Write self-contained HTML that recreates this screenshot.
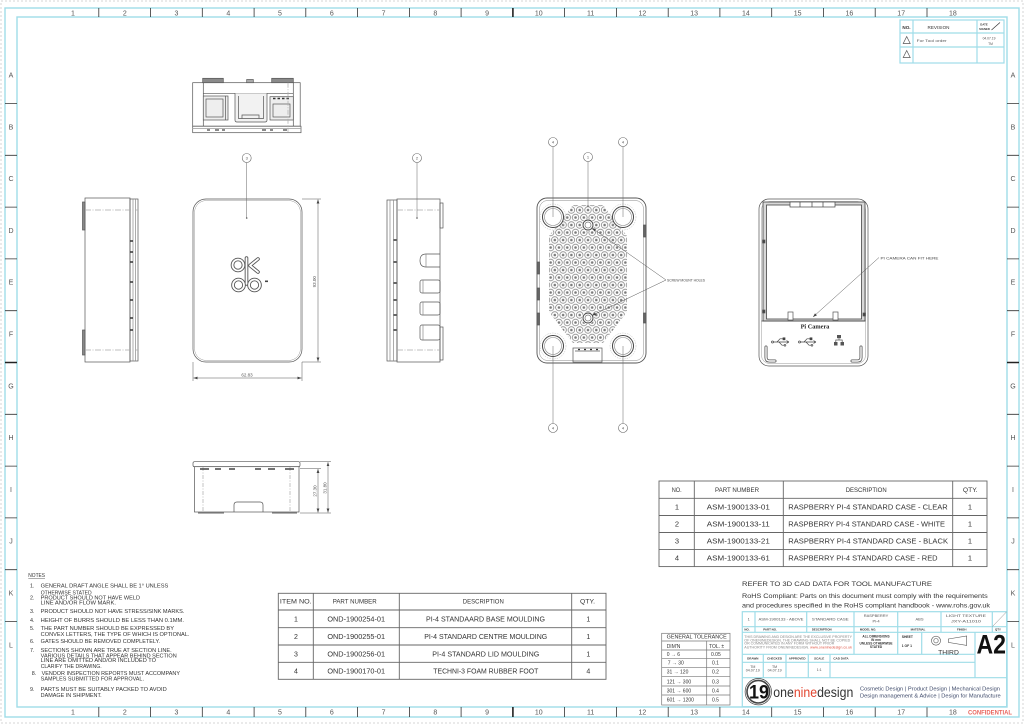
<!DOCTYPE html>
<html><head><meta charset="utf-8">
<style>
html,body{margin:0;padding:0;background:#fff;width:1024px;height:724px;overflow:hidden}
svg{display:block}
text{font-family:"Liberation Sans",Arial,sans-serif}
</style></head><body>
<svg width="1024" height="724" viewBox="0 0 1024 724" xmlns="http://www.w3.org/2000/svg">
<defs>
<pattern id="vent" patternUnits="userSpaceOnUse" x="583.85" y="206.25" width="8.3" height="15">
<g fill="none" stroke="#5e5e5e" stroke-width="0.6">
<circle cx="4.15" cy="3.75" r="3.3"/><circle cx="0" cy="11.25" r="3.3"/><circle cx="8.3" cy="11.25" r="3.3"/>
</g>
<g fill="#7a7a7a">
<circle cx="4.15" cy="3.75" r="1.3"/><circle cx="0" cy="11.25" r="1.3"/><circle cx="8.3" cy="11.25" r="1.3"/>
</g>
</pattern>
<marker id="ah" viewBox="0 0 10 10" refX="10" refY="5" markerWidth="4" markerHeight="4" orient="auto-start-reverse" markerUnits="userSpaceOnUse">
<path d="M0,1.5 L10,5 L0,8.5z" fill="#444"/>
</marker>
</defs>

<!-- page frame -->
<rect x="1" y="1" width="1022" height="722" fill="none" stroke="#d4d4d4" stroke-width="1" stroke-dasharray="2,2"/>
<rect x="5" y="8" width="1014" height="709" fill="none" stroke="#9fdde8" stroke-width="1.4"/>
<rect x="17" y="17" width="990" height="690" fill="none" stroke="#9fdde8" stroke-width="1.4"/>

<!-- column ticks -->
<g stroke="#333" stroke-width="0.8">
<path d="M98.8,8V17M150.6,8V17M202.3,8V17M254.1,8V17M305.8,8V17M357.6,8V17M409.4,8V17M461.1,8V17M564.6,8V17M616.4,8V17M668.2,8V17M719.9,8V17M771.7,8V17M823.4,8V17M875.2,8V17M927,8V17"/>
<path d="M98.8,707V717M150.6,707V717M202.3,707V717M254.1,707V717M305.8,707V717M357.6,707V717M409.4,707V717M461.1,707V717M564.6,707V717M616.4,707V717M668.2,707V717M719.9,707V717M771.7,707V717M823.4,707V717M875.2,707V717M927,707V717"/>
<path d="M5,103.5H17M5,155.3H17M5,207.1H17M5,258.9H17M5,310.7H17M5,414.3H17M5,466.1H17M5,517.9H17M5,569.7H17M5,621.5H17"/>
<path d="M1007,103.5H1019M1007,155.3H1019M1007,207.1H1019M1007,258.9H1019M1007,310.7H1019M1007,414.3H1019M1007,466.1H1019M1007,517.9H1019M1007,569.7H1019M1007,621.5H1019"/>
</g>
<g stroke="#222" stroke-width="1.6">
<path d="M512.9,8V17M512.9,707V717M5,362.5H17M1007,362.5H1019"/>
</g>
<g font-size="7" fill="#555" text-anchor="middle">
<text x="73" y="15.5">1</text><text x="124.8" y="15.5">2</text><text x="176.5" y="15.5">3</text><text x="228.3" y="15.5">4</text><text x="280" y="15.5">5</text><text x="331.8" y="15.5">6</text><text x="383.6" y="15.5">7</text><text x="435.3" y="15.5">8</text><text x="487.1" y="15.5">9</text><text x="538.8" y="15.5">10</text><text x="590.6" y="15.5">11</text><text x="642.4" y="15.5">12</text><text x="694.1" y="15.5">13</text><text x="745.9" y="15.5">14</text><text x="797.6" y="15.5">15</text><text x="849.4" y="15.5">16</text><text x="901.2" y="15.5">17</text><text x="952.9" y="15.5">18</text>
<text x="73" y="714.3">1</text><text x="124.8" y="714.3">2</text><text x="176.5" y="714.3">3</text><text x="228.3" y="714.3">4</text><text x="280" y="714.3">5</text><text x="331.8" y="714.3">6</text><text x="383.6" y="714.3">7</text><text x="435.3" y="714.3">8</text><text x="487.1" y="714.3">9</text><text x="538.8" y="714.3">10</text><text x="590.6" y="714.3">11</text><text x="642.4" y="714.3">12</text><text x="694.1" y="714.3">13</text><text x="745.9" y="714.3">14</text><text x="797.6" y="714.3">15</text><text x="849.4" y="714.3">16</text><text x="901.2" y="714.3">17</text><text x="952.9" y="714.3">18</text>
<text x="11" y="77.5">A</text><text x="11" y="129.3">B</text><text x="11" y="181.1">C</text><text x="11" y="232.9">D</text><text x="11" y="284.7">E</text><text x="11" y="336.5">F</text><text x="11" y="388.3">G</text><text x="11" y="440.1">H</text><text x="11" y="491.9">I</text><text x="11" y="543.7">J</text><text x="11" y="595.5">K</text><text x="11" y="647.3">L</text>
<text x="1013" y="77.5">A</text><text x="1013" y="129.3">B</text><text x="1013" y="181.1">C</text><text x="1013" y="232.9">D</text><text x="1013" y="284.7">E</text><text x="1013" y="336.5">F</text><text x="1013" y="388.3">G</text><text x="1013" y="440.1">H</text><text x="1013" y="491.9">I</text><text x="1013" y="543.7">J</text><text x="1013" y="595.5">K</text><text x="1013" y="647.3">L</text>
</g>
<text x="968" y="714.3" font-size="6.5" font-weight="bold" fill="#e8645c" textLength="44" lengthAdjust="spacingAndGlyphs">CONFIDENTIAL</text>

<!-- revision table -->
<g fill="none" stroke="#9fdde8" stroke-width="1.2">
<rect x="900" y="20" width="104" height="43"/>
<path d="M900,33H1004M900,47H1004M913,20V63M977,20V63"/>
</g>
<g fill="#333">
<text x="906.5" y="29" font-size="4.6" text-anchor="middle" font-weight="bold">NO.</text>
<text x="938.5" y="29" font-size="4.6" text-anchor="middle">REVISION</text>
<text x="984" y="25.5" font-size="2.8" text-anchor="middle" font-weight="bold">DATE</text>
<text x="984.5" y="30" font-size="2.8" text-anchor="middle" font-weight="bold">SIGNED</text>
<text x="916.7" y="42" font-size="3.5" fill="#555" textLength="30" lengthAdjust="spacingAndGlyphs">For Tool order</text>
<text x="989" y="39.5" font-size="3.3" text-anchor="middle" fill="#555">04.07.19</text>
<text x="990.5" y="45.2" font-size="3.3" text-anchor="middle" fill="#555">TM</text>
</g>
<path d="M991.5,30L1000,22.5" stroke="#333" stroke-width="0.7"/>
<g fill="none" stroke="#555" stroke-width="0.7">
<path d="M906.7,36.5L910.2,43.5H903.2Z"/>
<path d="M906.7,50.5L910.2,57.5H903.2Z"/>
</g>

<!-- ============ DRAWINGS ============ -->
<g fill="none" stroke="#555" stroke-width="0.7">

<!-- top view -->
<rect x="192.7" y="82.7" width="107.5" height="43.5"/>
<rect x="192.7" y="126.2" width="108.3" height="6.5"/>
<line x1="192.7" y1="128.6" x2="301" y2="128.6" stroke="#999"/>
<line x1="203.3" y1="82.7" x2="203.3" y2="126.2"/>
<line x1="293.3" y1="82.7" x2="293.3" y2="126.2"/>
<line x1="203.3" y1="93.3" x2="293.3" y2="93.3"/>
<rect x="202.7" y="78.3" width="20.6" height="4.4" fill="#8a8a8a"/>
<rect x="271.7" y="78.3" width="21.6" height="4.4" fill="#8a8a8a"/>
<rect x="246.7" y="79.5" width="6.6" height="3.2" fill="#aaa"/>
<rect x="203.3" y="96" width="24.7" height="24" fill="#eee"/>
<rect x="206" y="99" width="17" height="18"/>
<line x1="225.5" y1="96" x2="225.5" y2="120"/>
<path d="M235,93.3V120Q235,122 237,122H265Q267,122 267,120V93.3" fill="#f2f2f2"/>
<path d="M238.5,96V118.5H263.5V96"/>
<path d="M242,118.5V115H259V118.5"/>
<rect x="270" y="96.7" width="23.3" height="23.3" fill="#eee"/>
<rect x="273" y="104" width="17" height="13"/>
<path d="M273,98.5h2.5M277.5,98.5h2.5M282,98.5h2.5M286.5,98.5h2.5" stroke="#333" stroke-width="1.5"/>
<path d="M207,130h3M215,130h4M222,130h3M262,130h4M270,130h3M283,130h4" stroke="#444" stroke-width="1.2"/>
<line x1="288" y1="82.7" x2="288" y2="132.7" stroke="#aaa" stroke-dasharray="5,1.5,1,1.5"/>

<!-- left side view -->
<rect x="85" y="198" width="45" height="164"/>
<rect x="130" y="199" width="8" height="162"/>
<line x1="133" y1="199" x2="133" y2="361" stroke="#888"/>
<line x1="135.5" y1="199" x2="135.5" y2="361" stroke="#888"/>
<rect x="82.5" y="202" width="2.5" height="28" fill="#888"/>
<rect x="82.5" y="330" width="2.5" height="25" fill="#888"/>
<path d="M85,210H138M85,350H138" stroke="#aaa" stroke-dasharray="6,1.5,1,1.5"/>
<path d="M130,241h3M130,252h3M130,262h3M130,282h3M130,300h3M130,318h3M130,330h3" stroke="#333" stroke-width="1.6"/>

<!-- lid front view -->
<rect x="193" y="199" width="109" height="163" rx="13"/>
<rect x="194.6" y="200.6" width="105.8" height="159.8" rx="11.5" stroke="#999" stroke-width="0.5"/>
<!-- logo -->
<g stroke="#555" stroke-width="3.6" stroke-linecap="round" stroke-linejoin="round">
<circle cx="238" cy="265" r="5.5"/>
<path d="M258,259L250,265.5L258,272"/>
<path d="M246.5,258V284"/>
<circle cx="238.5" cy="285" r="5.5"/>
<circle cx="254.5" cy="285" r="5.5"/>
</g>
<g stroke="#fff" stroke-width="1.8" stroke-linecap="round" stroke-linejoin="round">
<circle cx="238" cy="265" r="5.5"/>
<path d="M258,259L250,265.5L258,272"/>
<path d="M246.5,258V284"/>
<circle cx="238.5" cy="285" r="5.5"/>
<circle cx="254.5" cy="285" r="5.5"/>
</g>
<rect x="265" y="280.5" width="3" height="1.6" fill="#444" stroke="none"/>

<!-- dims lid -->
<g stroke="#555" stroke-width="0.5">
<path d="M302,199H321M302,362H321M193,362V381M302,362V381"/>
<line x1="318" y1="199.5" x2="318" y2="361.5" marker-start="url(#ah)" marker-end="url(#ah)"/>
<line x1="193.5" y1="378" x2="301.5" y2="378" marker-start="url(#ah)" marker-end="url(#ah)"/>
</g>

<!-- right side view -->
<rect x="397" y="199" width="43" height="163"/>
<rect x="387" y="200" width="10" height="161"/>
<line x1="390" y1="200" x2="390" y2="361" stroke="#888"/>
<line x1="393.5" y1="200" x2="393.5" y2="361" stroke="#888"/>
<path d="M393.5,240h3M393.5,262h3M393.5,283h3M393.5,300h3M393.5,315h3M393.5,330h3" stroke="#333" stroke-width="1.4"/>
<rect x="440" y="203" width="3" height="25"/>
<rect x="440" y="327" width="3" height="33"/>
<path d="M397,210H440M397,350H440" stroke="#aaa" stroke-dasharray="6,1.5,1,1.5"/>
<path d="M440,254H426Q420,254 420,260.5Q420,267 426,267H440"/>
<line x1="426" y1="254" x2="426" y2="267" stroke="#888"/>
<rect x="420" y="280" width="20" height="13" rx="2"/>
<line x1="423" y1="280" x2="423" y2="293" stroke="#888"/>
<rect x="420" y="302" width="20" height="13" rx="2"/>
<line x1="423" y1="302" x2="423" y2="315" stroke="#888"/>
<rect x="420" y="325" width="20" height="15" rx="2"/>
<line x1="423" y1="325" x2="423" y2="340" stroke="#888"/>

<!-- bottom view -->
<rect x="193" y="461.7" width="107" height="5" rx="1.5"/>
<rect x="194.5" y="466.7" width="104.5" height="45.3"/>
<path d="M234,512V505Q234,502 237,502H260Q263,502 263,505V512"/>
<path d="M203,467V512M290,467V512" stroke="#aaa" stroke-dasharray="4,1.5,1,1.5"/>
<path d="M200,469h9M215,469h6M229,469h6M255,469h6M268,469h7M285,469h9" stroke="#444" stroke-width="1.4"/>
<path d="M198,513H224M272,513H297" stroke="#666" stroke-width="1"/>
<g stroke-width="0.5">
<path d="M300,461.7H331M300,468.5H321M300,513H331"/>
<line x1="328" y1="462.2" x2="328" y2="512.5" marker-start="url(#ah)" marker-end="url(#ah)"/>
<line x1="318" y1="469" x2="318" y2="512.5" marker-start="url(#ah)" marker-end="url(#ah)"/>
</g>

<!-- base view -->
<rect x="537" y="198" width="109" height="165" rx="10" stroke-width="0.9"/>
<rect x="539.5" y="200.5" width="104" height="160" rx="8" stroke="#888" stroke-width="0.5"/>
<rect x="537" y="262" width="2.5" height="12" fill="#666"/>
<rect x="537" y="288" width="2.5" height="12" fill="#666"/>
<rect x="537" y="313" width="2.5" height="12" fill="#666"/>
<rect x="643.5" y="225" width="2.5" height="12" fill="#666"/>
<rect x="643.5" y="313" width="2.5" height="10" fill="#666"/>
<polygon points="573,205 603,205 627,236 627,312 603,343 573,343 549,312 549,236" fill="url(#vent)" stroke="none"/>
<g stroke="#bbb" stroke-width="0.5" stroke-dasharray="1.5,1">
<circle cx="553" cy="217" r="13"/><circle cx="623" cy="217" r="13"/><circle cx="553" cy="346" r="13"/><circle cx="623" cy="346" r="13"/>
</g>
<g stroke="#444" stroke-width="1" fill="#fff">
<circle cx="553" cy="217" r="10.5"/><circle cx="623" cy="217" r="10.5"/><circle cx="553" cy="346" r="10.5"/><circle cx="623" cy="346" r="10.5"/>
</g>
<g stroke="#888" stroke-width="0.6">
<circle cx="553" cy="217" r="8.5"/><circle cx="623" cy="217" r="8.5"/><circle cx="553" cy="346" r="8.5"/><circle cx="623" cy="346" r="8.5"/>
</g>
<circle cx="588" cy="225" r="6" fill="#fff" stroke="none"/>
<circle cx="588" cy="318" r="6" fill="#fff" stroke="none"/>
<circle cx="588" cy="225" r="5" stroke="#444" stroke-width="0.9"/>
<circle cx="588" cy="225" r="3" stroke="#777"/>
<circle cx="588" cy="318" r="5" stroke="#444" stroke-width="0.9"/>
<circle cx="588" cy="318" r="3" stroke="#777"/>
<rect x="573" y="348" width="29" height="14"/>
<line x1="575" y1="351" x2="600" y2="351"/>
<path d="M578,349.5h2M584,349.5h2M590,349.5h2M596,349.5h2" stroke="#333" stroke-width="1.2"/>
<g stroke="#555" stroke-width="0.5">
<line x1="666" y1="280" x2="592" y2="228" marker-end="url(#ah)"/>
<line x1="666" y1="280" x2="592" y2="315.5" marker-end="url(#ah)"/>
</g>

<!-- lid interior view -->
<rect x="759" y="199" width="109" height="167" rx="10"/>
<rect x="761.5" y="201.5" width="104" height="162" rx="8" stroke="#999" stroke-width="0.5"/>
<rect x="763" y="202" width="102" height="119" fill="#d8d8d8" stroke="#444" stroke-width="0.8"/>
<rect x="766.5" y="205" width="95" height="114" fill="#fff" stroke="#444" stroke-width="0.8"/>
<rect x="790" y="202" width="45" height="5" fill="#fff" stroke="#444"/>
<path d="M800,202v5M812,202v5M823,202v5" stroke="#444"/>
<rect x="762.5" y="240" width="2.5" height="3" fill="#444"/>
<rect x="762.5" y="310" width="2.5" height="3" fill="#444"/>
<rect x="863" y="313" width="2.5" height="3" fill="#444"/>
<rect x="788" y="312" width="5" height="8" fill="#fff"/>
<rect x="833" y="312" width="5" height="8" fill="#fff"/>
<line x1="761.5" y1="321" x2="865.5" y2="321" stroke="#444"/>
<!-- usb icons -->
<g stroke="#444" stroke-width="0.7">
<circle cx="772.5" cy="342" r="1"/>
<path d="M773.5,342H789M789,342l-2.5,-1.5M789,342l-2.5,1.5M777,342L780,338.8H783M779,342L782,345.2H784"/>
<rect x="783" y="337.8" width="2" height="2" fill="#444"/>
<circle cx="785" cy="345.2" r="0.9"/>
<circle cx="799.5" cy="342" r="1"/>
<path d="M800.5,342H816M816,342l-2.5,-1.5M816,342l-2.5,1.5M804,342L807,338.8H810M806,342L809,345.2H811"/>
<rect x="810" y="337.8" width="2" height="2" fill="#444"/>
<circle cx="812" cy="345.2" r="0.9"/>
</g>
<g fill="#555" stroke="none">
<rect x="837" y="335" width="4" height="3.2"/>
<rect x="834" y="342" width="3.5" height="3.5"/>
<rect x="840.5" y="342" width="3.5" height="3.5"/>
</g>
<path d="M839,338.2V340M835.8,342V340H842.2V342" stroke="#555" stroke-width="0.7"/>
<g stroke="#555" stroke-width="3" stroke-linecap="round">
<path d="M766,347V357.5Q766,361 769.5,361H775"/>
<path d="M861,347V357.5Q861,361 857.5,361H852"/>
</g>
<g stroke="#fff" stroke-width="1.4" stroke-linecap="round">
<path d="M766,347V357.5Q766,361 769.5,361H775"/>
<path d="M861,347V357.5Q861,361 857.5,361H852"/>
</g>
<line x1="879" y1="257.5" x2="813" y2="317" stroke-width="0.5" marker-end="url(#ah)"/>

<!-- balloons -->
<g stroke="#666" stroke-width="0.6" fill="#fff">
<circle cx="246.7" cy="158" r="4.5"/>
<circle cx="417" cy="158" r="4.5"/>
<circle cx="553" cy="142" r="4.5"/>
<circle cx="623" cy="142" r="4.5"/>
<circle cx="588" cy="157" r="4.5"/>
<circle cx="553" cy="428" r="4.5"/>
<circle cx="623" cy="428" r="4.5"/>
</g>
<g stroke="#666" stroke-width="0.5">
<path d="M246.7,162.5V218M417,162.5V218M553,146.5V217M623,146.5V217M588,161.5V206M553,423.5V346M623,423.5V346"/>
</g>
</g>
<g fill="#555">
<circle cx="246.7" cy="218" r="0.8"/><circle cx="417" cy="218" r="0.8"/><circle cx="588" cy="206" r="0.8"/>
</g>
<g font-size="4" fill="#555" text-anchor="middle">
<text x="246.7" y="159.4">3</text><text x="417" y="159.4">2</text>
<text x="553" y="143.4">4</text><text x="623" y="143.4">4</text><text x="588" y="158.4">1</text>
<text x="553" y="429.4">4</text><text x="623" y="429.4">4</text>
</g>

<!-- dimension texts -->
<g font-size="4.5" fill="#555" text-anchor="middle">
<text transform="translate(316,281.7) rotate(-90)">93.00</text>
<text x="247" y="376.3">62.83</text>
<text transform="translate(316.5,491) rotate(-90)">27.30</text>
<text transform="translate(326.5,488) rotate(-90)">31.80</text>
</g>
<text x="667" y="281.5" font-size="4" fill="#444" textLength="38" lengthAdjust="spacingAndGlyphs">SCREW MOUNT HOLES</text>
<text x="880.5" y="259.5" font-size="4" fill="#444" textLength="58" lengthAdjust="spacingAndGlyphs">PI CAMERA CAN FIT HERE</text>
<text x="815" y="328.3" font-size="6.3" font-weight="bold" fill="#222" text-anchor="middle" style="font-family:'Liberation Serif',serif">Pi Camera</text>

<!-- ============ BIG PARTS TABLE ============ -->
<g fill="none" stroke="#666" stroke-width="0.9">
<rect x="659" y="481" width="328" height="85.6"/>
<path d="M659,498.3H987M659,515.5H987M659,532.5H987M659,549.6H987M694.3,481V566.6M783.3,481V566.6M952.7,481V566.6"/>
</g>
<g fill="#333" font-size="6.3" text-anchor="middle">
<text x="676.7" y="492.2" textLength="10" lengthAdjust="spacingAndGlyphs">NO.</text>
<text x="737" y="492.2" textLength="44" lengthAdjust="spacingAndGlyphs">PART NUMBER</text>
<text x="866.2" y="492.2" textLength="41" lengthAdjust="spacingAndGlyphs">DESCRIPTION</text>
<text x="970.3" y="492.2" textLength="14.7" lengthAdjust="spacingAndGlyphs">QTY.</text>
</g>
<g fill="#333" font-size="7.5">
<g text-anchor="middle">
<text x="677" y="509.6">1</text><text x="677" y="526.6">2</text><text x="677" y="543.6">3</text><text x="677" y="560.6">4</text>
<text x="970" y="509.6">1</text><text x="970" y="526.6">1</text><text x="970" y="543.6">1</text><text x="970" y="560.6">1</text>
<text x="738.3" y="509.6" textLength="63" lengthAdjust="spacingAndGlyphs">ASM-1900133-01</text>
<text x="738.3" y="526.6" textLength="63" lengthAdjust="spacingAndGlyphs">ASM-1900133-11</text>
<text x="738.3" y="543.6" textLength="63" lengthAdjust="spacingAndGlyphs">ASM-1900133-21</text>
<text x="738.3" y="560.6" textLength="63" lengthAdjust="spacingAndGlyphs">ASM-1900133-61</text>
</g>
<text x="788.3" y="509.6" textLength="159.4" lengthAdjust="spacingAndGlyphs">RASPBERRY PI-4 STANDARD CASE - CLEAR</text>
<text x="788.3" y="526.6" textLength="156.7" lengthAdjust="spacingAndGlyphs">RASPBERRY PI-4 STANDARD CASE - WHITE</text>
<text x="788.3" y="543.6" textLength="159.7" lengthAdjust="spacingAndGlyphs">RASPBERRY PI-4 STANDARD CASE - BLACK</text>
<text x="788.3" y="560.6" textLength="149.3" lengthAdjust="spacingAndGlyphs">RASPBERRY PI-4 STANDARD CASE - RED</text>
</g>

<!-- ============ ITEMS TABLE ============ -->
<g fill="none" stroke="#666" stroke-width="0.9">
<rect x="278.3" y="593.3" width="327.7" height="86"/>
<path d="M278.3,610H606M278.3,627.7H606M278.3,645H606M278.3,662.3H606M313.3,593.3V679.3M399.3,593.3V679.3M571.7,593.3V679.3"/>
</g>
<g fill="#333" font-size="6.3" text-anchor="middle">
<text x="295.8" y="603.5" textLength="31.7" lengthAdjust="spacingAndGlyphs">ITEM NO.</text>
<text x="354.7" y="603.5" textLength="44" lengthAdjust="spacingAndGlyphs">PART NUMBER</text>
<text x="483.3" y="603.5" textLength="41" lengthAdjust="spacingAndGlyphs">DESCRIPTION</text>
<text x="587.5" y="603.5" textLength="15" lengthAdjust="spacingAndGlyphs">QTY.</text>
</g>
<g fill="#333" font-size="7" text-anchor="middle">
<text x="296" y="621.5">1</text><text x="296" y="639.2">2</text><text x="296" y="656.5">3</text><text x="296" y="673.5">4</text>
<text x="588.3" y="621.5">1</text><text x="588.3" y="639.2">1</text><text x="588.3" y="656.5">1</text><text x="588.3" y="673.5">4</text>
<text x="356.2" y="621.5" textLength="57.7" lengthAdjust="spacingAndGlyphs">OND-1900254-01</text>
<text x="356.2" y="639.2" textLength="57.7" lengthAdjust="spacingAndGlyphs">OND-1900255-01</text>
<text x="356.2" y="656.5" textLength="57.7" lengthAdjust="spacingAndGlyphs">OND-1900256-01</text>
<text x="356.2" y="673.5" textLength="57.7" lengthAdjust="spacingAndGlyphs">OND-1900170-01</text>
<text x="485.5" y="621.5" textLength="119" lengthAdjust="spacingAndGlyphs">PI-4 STANDAARD BASE MOULDING</text>
<text x="485.7" y="639.2" textLength="123" lengthAdjust="spacingAndGlyphs">PI-4 STANDARD CENTRE MOULDING</text>
<text x="485.8" y="656.5" textLength="107" lengthAdjust="spacingAndGlyphs">PI-4 STANDARD LID MOULDING</text>
<text x="485.8" y="673.5" textLength="105" lengthAdjust="spacingAndGlyphs">TECHNI-3 FOAM RUBBER FOOT</text>
</g>

<!-- ============ NOTES ============ -->
<g fill="#333" font-size="5.4">
<text x="28.3" y="577" textLength="16.7" lengthAdjust="spacingAndGlyphs">NOTES</text>
<line x1="28.3" y1="578.4" x2="45" y2="578.4" stroke="#333" stroke-width="0.4"/>
<text x="30" y="587.6">1.</text>
<text x="40.7" y="587.6" textLength="127.6" lengthAdjust="spacingAndGlyphs">GENERAL DRAFT ANGLE SHALL BE 1° UNLESS</text>
<text x="40.7" y="594.6" textLength="51" lengthAdjust="spacingAndGlyphs">OTHERWISE STATED</text>
<text x="30" y="599.6">2.</text>
<text x="40.7" y="599.6" textLength="99.3" lengthAdjust="spacingAndGlyphs">PRODUCT SHOULD NOT HAVE WELD</text>
<text x="40.7" y="604.6" textLength="75.3" lengthAdjust="spacingAndGlyphs">LINE AND/OR FLOW MARK.</text>
<text x="30" y="612.9">3.</text>
<text x="40.7" y="612.9" textLength="143.7" lengthAdjust="spacingAndGlyphs">PRODUCT SHOULD NOT HAVE STRESS/SINK MARKS.</text>
<text x="30" y="621.9">4.</text>
<text x="40.7" y="621.9" textLength="143.3" lengthAdjust="spacingAndGlyphs">HEIGHT OF BURRS SHOULD BE LESS THAN 0.1MM.</text>
<text x="30" y="630.2">5.</text>
<text x="40.7" y="630.2" textLength="133.3" lengthAdjust="spacingAndGlyphs">THE PART NUMBER SHOULD BE EXPRESSED BY</text>
<text x="40.7" y="635.9" textLength="148.7" lengthAdjust="spacingAndGlyphs">CONVEX LETTERS, THE TYPE OF WHICH IS OPTIONAL.</text>
<text x="30" y="643.2">6.</text>
<text x="40.7" y="643.2" textLength="119.3" lengthAdjust="spacingAndGlyphs">GATES SHOULD BE REMOVED COMPLETELY.</text>
<text x="30" y="651.9">7.</text>
<text x="40.7" y="651.9" textLength="131" lengthAdjust="spacingAndGlyphs">SECTIONS SHOWN ARE TRUE AT SECTION LINE.</text>
<text x="40.7" y="657.6" textLength="136" lengthAdjust="spacingAndGlyphs">VARIOUS DETAILS THAT APPEAR BEHIND SECTION</text>
<text x="40.7" y="662.2" textLength="115.3" lengthAdjust="spacingAndGlyphs">LINE ARE OMITTED AND/OR INCLUDED TO</text>
<text x="40.7" y="667.9" textLength="61" lengthAdjust="spacingAndGlyphs">CLARIFY THE DRAWING.</text>
<text x="31.7" y="675.2">8.</text>
<text x="41.7" y="675.2" textLength="138.3" lengthAdjust="spacingAndGlyphs">VENDOR INSPECTION REPORTS MUST ACCOMPANY</text>
<text x="40.7" y="680.6" textLength="103.3" lengthAdjust="spacingAndGlyphs">SAMPLES SUBMITTED FOR APPROVAL.</text>
<text x="30" y="690.9">9.</text>
<text x="40.7" y="690.9" textLength="126" lengthAdjust="spacingAndGlyphs">PARTS MUST BE SUITABLY PACKED TO AVOID</text>
<text x="40.7" y="696.9" textLength="61" lengthAdjust="spacingAndGlyphs">DAMAGE IN SHIPMENT.</text>
</g>

<!-- ============ REFER / ROHS ============ -->
<g fill="#333">
<text x="742" y="585.8" font-size="6.3" textLength="190" lengthAdjust="spacingAndGlyphs">REFER TO 3D CAD DATA FOR TOOL MANUFACTURE</text>
<text x="742" y="598" font-size="6.8" textLength="245.7" lengthAdjust="spacingAndGlyphs">RoHS Compliant:  Parts on this document must comply with the requirements</text>
<text x="742" y="607.4" font-size="6.8" textLength="248" lengthAdjust="spacingAndGlyphs">and procedures specified in the RoHS compliant handbook - www.rohs.gov.uk</text>
</g>

<!-- ============ TOLERANCE TABLE ============ -->
<g fill="none" stroke="#777" stroke-width="0.7">
<rect x="661.7" y="633.3" width="68.3" height="71.7"/>
<path d="M661.7,641H730M661.7,650H730M661.7,658.3H730M661.7,667.3H730M661.7,676.7H730M661.7,686H730M661.7,695H730M706.7,641V705"/>
</g>
<g fill="#333" font-size="5">
<text x="666.7" y="638.6" textLength="60" lengthAdjust="spacingAndGlyphs">GENERAL TOLERANCE</text>
<text x="666.7" y="647.8">DIM'N</text><text x="709" y="647.8">TOL. ±</text>
<text x="666.7" y="655.8">0 → 6</text><text x="711" y="655.8">0.05</text>
<text x="667.7" y="664.6">7 → 30</text><text x="712" y="664.6">0.1</text>
<text x="666.7" y="673.7">31 → 120</text><text x="712" y="673.7">0.2</text>
<text x="666.7" y="683.5">121 → 300</text><text x="712" y="683.5">0.3</text>
<text x="666.7" y="692.6">301 → 600</text><text x="712" y="692.6">0.4</text>
<text x="666.7" y="701.6">601 → 1200</text><text x="712" y="701.6">0.5</text>
</g>

<!-- ============ TITLE BLOCK ============ -->
<g fill="none" stroke="#9fdde8" stroke-width="1.2">
<rect x="742.3" y="611.7" width="264.4" height="95"/>
<path d="M742.3,626.7H1006.7M742.3,632.3H1006.7M742.3,654.3H975M742.3,662.3H975M742.3,677.7H1006.7"/>
<path d="M755,611.7V632.3M806.7,611.7V632.3M854,611.7V654.3M897.7,611.7V654.3M941,611.7V632.3M992.3,611.7V632.3M921.7,632.3V654.3M975,632.3V677.7"/>
<path d="M763.3,654.3V677.7M786,654.3V677.7M808.3,654.3V677.7M830,654.3V677.7"/>
</g>
<line x1="992.3" y1="626.7" x2="1006.7" y2="611.7" stroke="#888" stroke-width="0.5"/>
<g fill="#555" font-size="4" text-anchor="middle">
<text x="748.7" y="620.5">1</text>
<text x="781" y="620.5" textLength="45" lengthAdjust="spacingAndGlyphs">ASM-1900133 - ABOVE</text>
<text x="830.3" y="620.5" textLength="36.7" lengthAdjust="spacingAndGlyphs">STANDARD CASE</text>
<text x="876" y="617">RASPBERRY</text>
<text x="876" y="622.5">Pi-4</text>
<text x="919.5" y="620.5">ABS</text>
<text x="966" y="617" textLength="40" lengthAdjust="spacingAndGlyphs">LIGHT TEXTURE</text>
<text x="966" y="622.6" textLength="30" lengthAdjust="spacingAndGlyphs">JXY-A11010</text>
</g>
<g fill="#333" font-size="2.9" font-weight="bold" text-anchor="middle">
<text x="747" y="630.7">NO.</text>
<text x="770" y="630.7">PART NO.</text>
<text x="821.7" y="630.7">DESCRIPTION</text>
<text x="868" y="630.7">MODEL NO.</text>
<text x="918" y="630.7">MATERIAL</text>
<text x="961.7" y="630.7">FINISH</text>
<text x="998" y="630.7">QTY</text>
</g>
<g fill="#888" font-size="3.2">
<text x="744.3" y="637.8" textLength="107.7" lengthAdjust="spacingAndGlyphs">THIS DRAWING AND DESIGN ARE THE EXCLUSIVE PROPERTY</text>
<text x="744.3" y="641.3" textLength="106" lengthAdjust="spacingAndGlyphs">OF ONENINEDESIGN. THE DRAWING SHALL NOT BE COPIED</text>
<text x="744.3" y="644.7" textLength="90" lengthAdjust="spacingAndGlyphs">OR COMMUNICATED IN ANY FORM WITHOUT PRIOR</text>
<text x="744.3" y="648.3" textLength="107.7" lengthAdjust="spacingAndGlyphs">AUTHORITY FROM ONENINEDESIGN.  <tspan fill="#e05545">www.oneninedesign.co.uk</tspan></text>
</g>
<g fill="#333" font-size="3.2" font-weight="bold" text-anchor="middle">
<text x="876" y="637.6">ALL DIMENSIONS</text>
<text x="876" y="641.1">IN mm</text>
<text x="876" y="644.6">UNLESS OTHERWISE</text>
<text x="876" y="648.2">STATED</text>
</g>
<g fill="#333" font-size="3.4" font-weight="bold">
<text x="901.7" y="638.2">SHEET</text>
<text x="901.7" y="647">1 OF 1</text>
</g>
<g fill="none" stroke="#555" stroke-width="0.6">
<circle cx="936" cy="640.7" r="4.5"/>
<circle cx="936" cy="640.7" r="2.2"/>
<path d="M948.3,639L966.7,636V645.4L948.3,642.4Z"/>
</g>
<text x="948.5" y="654.3" font-size="6.5" fill="#333" text-anchor="middle" textLength="20.7" lengthAdjust="spacingAndGlyphs">THIRD</text>
<text x="976.5" y="653.7" font-size="27" font-weight="bold" fill="#111" textLength="29.5" lengthAdjust="spacingAndGlyphs">A2</text>
<g fill="#333" font-size="3" font-weight="bold" text-anchor="middle">
<text x="752.8" y="659.6">DRAWN</text>
<text x="774.6" y="659.6">CHECKED</text>
<text x="797.2" y="659.6">APPROVED</text>
<text x="819.2" y="659.6">SCALE</text>
<text x="841" y="659.6">CAD DATA</text>
</g>
<g fill="#555" font-size="3.6" text-anchor="middle">
<text x="752.8" y="668">TM</text><text x="752.8" y="671.6">04.07.19</text>
<text x="774.6" y="668">TM</text><text x="774.6" y="671.6">04.07.19</text>
<text x="819.2" y="671.2">1:1</text>
</g>
<!-- logo -->
<circle cx="758.3" cy="691.7" r="13.2" fill="none" stroke="#444" stroke-width="0.7"/>
<circle cx="758.3" cy="691.7" r="11.3" fill="none" stroke="#444" stroke-width="1.6"/>
<text x="759" y="698.6" font-size="19" font-weight="bold" fill="#111" text-anchor="middle" textLength="20" lengthAdjust="spacingAndGlyphs">19</text>
<text x="773.3" y="696.8" font-size="13.5" fill="#333" textLength="80" lengthAdjust="spacingAndGlyphs">one<tspan fill="#e2452f">nine</tspan>design</text>
<g fill="#3f4b6b" font-size="5.8">
<text x="860" y="690.6" textLength="140" lengthAdjust="spacingAndGlyphs">Cosmetic Design | Product Design | Mechanical Design</text>
<text x="860" y="697.4" textLength="140.7" lengthAdjust="spacingAndGlyphs">Design management &amp; Advice | Design for Manufacture</text>
</g>
</svg>
</body></html>
